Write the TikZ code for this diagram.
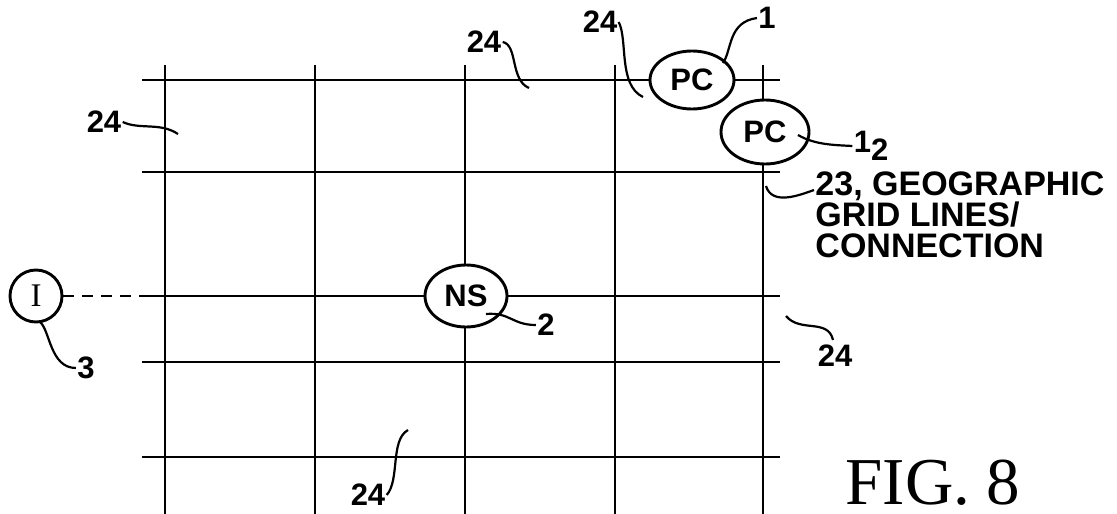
\documentclass[tikz,border=0pt]{standalone}
\usepackage{fontspec}
\setmainfont{Liberation Sans}
\newfontfamily\figfont{Liberation Serif}
\usetikzlibrary{positioning,shapes.geometric}

\begin{document}
\begin{tikzpicture}[x=1pt,y=-1pt,line width=2.9pt,
    lbl/.style={font=\bfseries\fontsize{31}{31}\selectfont, inner sep=0pt},
    unit/.style={draw, fill=white, ellipse, inner sep=0pt, font=\bfseries\fontsize{31}{31}\selectfont},
    lead/.style={line width=2.2pt}]
    \useasboundingbox (0,0) rectangle (1117,514);

    %Grid
    \foreach \gx in {165,315,465,615,763}
        \draw (\gx,65) -- (\gx,514);
    \foreach \gy in {80,172,296,362,457}
        \draw (142,\gy) -- (780,\gy);
    \coordinate (gl) at (142,296);

    %Nodes
    \node[unit, minimum width=84, minimum height=58] (pc1) at (692,80) {PC};
    \node[unit, minimum width=88, minimum height=64] (pc2) at (765,132) {PC};
    \node[unit, minimum width=82, minimum height=62] (ns) at (466,296) {NS};
    \node[draw, fill=white, circle, minimum size=52, inner sep=0pt,
        font=\figfont\fontsize{33}{33}\selectfont] (inp) at (36,296) {I};

    %Labels
    \node[lbl] (l1) at (767,18) {1};
    \node[lbl] (l12) at (871,146) {1\raisebox{-8pt}{2}};
    \node[lbl] (l2) at (546,325) {2};
    \node[lbl] (l3) at (86,368) {3};
    \node[lbl] (t24a) at (484,42) {24};
    \node[lbl] (t24b) at (600,22) {24};
    \node[lbl] (t24c) at (104,122) {24};
    \node[lbl] (t24d) at (835,356) {24};
    \node[lbl] (t24e) at (368,495) {24};
    \node[lbl, anchor=north west, align=left, font=\bfseries\fontsize{34}{31}\selectfont]
        (grid) at (814,170) {23, GEOGRAPHIC\\GRID LINES/\\CONNECTION};
    \node[inner sep=0pt, font=\figfont\fontsize{67}{67}\selectfont] (fig) at (933,483) {FIG. 8};

    %Lines
    \draw[dashed, dash pattern=on 11pt off 8pt] (inp) -- (gl);
    \draw[lead] (l1.west) .. controls (728,22) and (732,50) .. (723,63);
    \draw[lead] (l12.west) .. controls (835,145) and (815,145) .. (798,135);
    \draw[lead] (t24a.east) .. controls (518,45) and (510,80) .. (529,88);
    \draw[lead] (t24b.east) .. controls (628,40) and (618,85) .. (643,97);
    \draw[lead] (t24c.east) .. controls (140,130) and (160,122) .. (178,134);
    \draw[lead] (766,186) .. controls (772,206) and (800,195) .. (grid.west |- 0,190);
    \draw[lead] (l2.west) .. controls (512,325) and (510,312) .. (486,314);
    \draw[lead] (l3.west) .. controls (50,368) and (50,330) .. (40,322);
    \draw[lead] (786,316) .. controls (800,333) and (828,318) .. (833,340);
    \draw[lead] (t24e.east) .. controls (400,480) and (390,440) .. (408,430);
\end{tikzpicture}
\end{document}
